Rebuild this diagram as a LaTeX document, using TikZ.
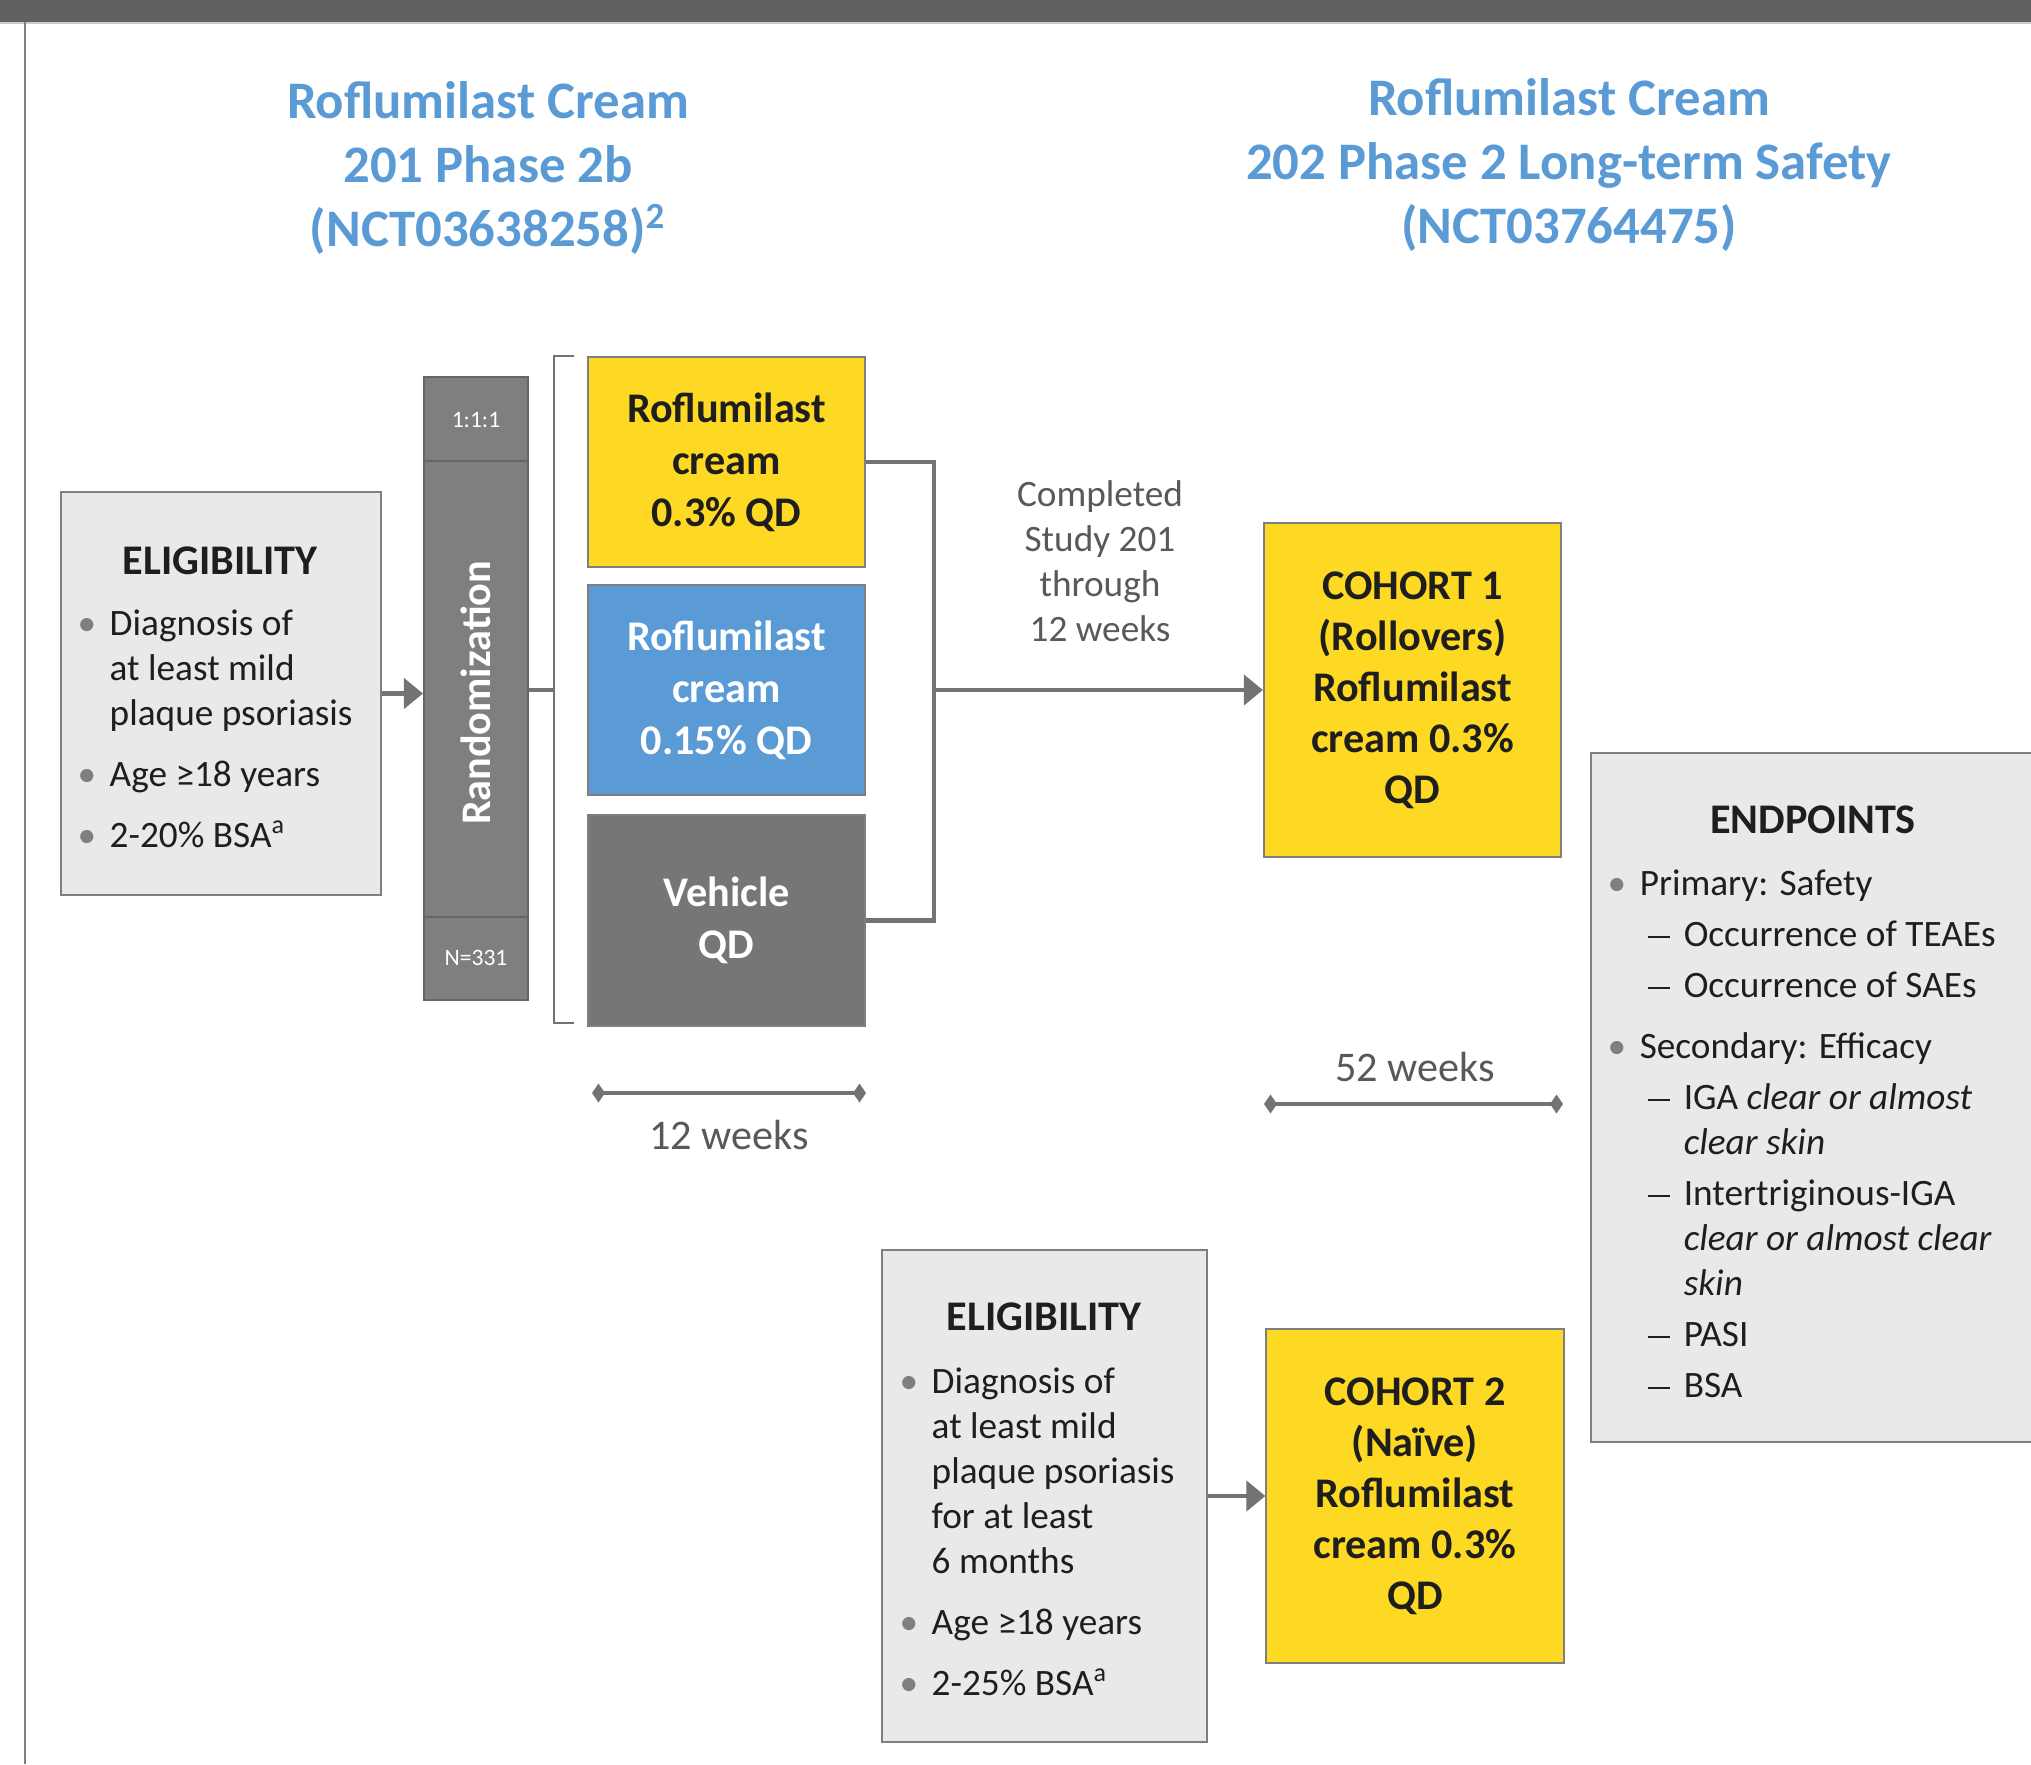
\documentclass[tikz,border=0pt]{standalone}
\usepackage{fontspec}
\setmainfont{Carlito}
\usetikzlibrary{arrows.meta}

\definecolor{titleblue}{HTML}{5B9BD5}
\definecolor{armyellow}{HTML}{FDD923}
\definecolor{armblue}{HTML}{5B9BD5}
\definecolor{armgray}{HTML}{767676}
\definecolor{randgray}{HTML}{7F7F7F}
\definecolor{boxgray}{HTML}{E9E9E9}
\definecolor{edgegray}{HTML}{7F7F7F}
\definecolor{linegray}{HTML}{737373}
\definecolor{labelgray}{HTML}{595959}
\definecolor{ink}{HTML}{1E1E1E}
\definecolor{bandgray}{HTML}{616161}

\newcommand{\titlefont}{\fontsize{15}{18.2}\selectfont\bfseries}
\newcommand{\armfont}{\fontsize{12}{14.8}\selectfont\bfseries}
\newcommand{\cohortfont}{\fontsize{12}{14.5}\selectfont\bfseries}
\newcommand{\headfont}{\fontsize{12}{14}\selectfont\bfseries}
\newcommand{\bodyfont}{\fontsize{10.6}{12.8}\selectfont}
\newcommand{\weekfont}{\fontsize{12}{14}\selectfont}
\newcommand{\ratiofont}{\fontsize{6.7}{8}\selectfont}
\newcommand{\ptbullet}{\makebox[3.2mm][l]{\textcolor{edgegray}{\textbullet}}}
\newcommand{\subdash}{\makebox[4.4mm][l]{\hspace{0.8mm}\rule[0.9mm]{2.2mm}{0.2mm}}}

\tikzset{
  titletext/.style={font=\titlefont, text=titleblue, align=center},
  listbox/.style={draw=edgegray, fill=boxgray, line width=0.6pt, inner sep=0pt},
  headtext/.style={font=\headfont, text=ink, anchor=base},
  listtext/.style={font=\bodyfont, text=ink, anchor=north west, inner sep=0pt},
  randbox/.style={draw=black!60, fill=randgray, line width=0.6pt, minimum width=1.04cm, minimum height=6.23cm, inner sep=0pt},
  whitebold/.style={font=\armfont, text=white},
  ratiotext/.style={font=\ratiofont, text=white},
  armbox/.style={draw=edgegray, line width=0.6pt, minimum width=2.77cm, minimum height=2.10cm, inner sep=0pt, align=center, font=\armfont, text=ink},
  cohortbox/.style={armbox, fill=armyellow, minimum width=2.97cm, minimum height=3.34cm, font=\cohortfont},
  flow/.style={draw=linegray, line width=1.3pt, -{Triangle[length=1.9mm, width=3mm]}},
  link/.style={draw=linegray, line width=1.3pt},
  bracketline/.style={draw=linegray, line width=0.8pt},
  dimline/.style={draw=linegray, line width=1pt, {Diamond[length=1.3mm, width=1.9mm]}-{Diamond[length=1.3mm, width=1.9mm]}},
  labeltext/.style={font=\bodyfont, text=labelgray, align=center},
  weektext/.style={font=\weekfont, text=labelgray}
}

\begin{document}
\begin{tikzpicture}[x=0.01cm, y=-0.01cm]
\useasboundingbox (0,0) rectangle (2031,1764);
\clip (0,0) rectangle (2031,1764);

% page frame
\fill[bandgray] (0,0) rectangle (2031,22);
\draw[line width=0.6pt, black!20] (0,23) -- (2031,23);
\draw[line width=0.6pt, edgegray] (25,22) -- (25,1764);

% titles
\node[titletext] (title201) at (488,168) {Roflumilast Cream\\201 Phase 2b\\(NCT03638258)\textsuperscript{2}};
\node[titletext] (title202) at (1569,165) {Roflumilast Cream\\202 Phase 2 Long-term Safety\\(NCT03764475)};

% study 201
\node[listbox, minimum width=3.2cm, minimum height=4.03cm] (elig1) at (221,693.5) {};
\node[headtext] (elig1head) at (220,574) {ELIGIBILITY};
\node[listtext] (elig1list) at (77,603.5) {\begin{tabular}{@{}l@{}l@{}}
  \ptbullet & Diagnosis of\\
  & at least mild\\
  & plaque psoriasis\\[4.5pt]
  \ptbullet & Age ≥18 years\\[4.5pt]
  \ptbullet & 2-20\% BSA\textsuperscript{a}
\end{tabular}};

\node[randbox] (rand) at (476,688.5) {};
\draw[line width=0.6pt, black!60] (rand.north west) ++(0,85) -- ++(104,0);
\draw[line width=0.6pt, black!60] (rand.south west) ++(0,-84) -- ++(104,0);
\node[whitebold, rotate=90] (randlbl) at (476,693) {Randomization};
\node[ratiotext] (ratio) at (476,420) {1:1:1};
\node[ratiotext] (nsize) at (476,958) {N=331};

\node[armbox, fill=armyellow] (arm1) at (726.5,462) {Roflumilast\\cream\\0.3\% QD};
\node[armbox, fill=armblue, text=white] (arm2) at (726.5,690) {Roflumilast\\cream\\0.15\% QD};
\node[armbox, fill=armgray, text=white, minimum height=2.11cm] (arm3) at (726.5,920.5) {Vehicle\\QD};

\draw[flow] (elig1.east) -- (rand.west |- elig1.east);
\coordinate (split) at (554,690);
\draw[link] (rand.east |- split) -- (split);
\draw[bracketline] (574,356) -| (split) |- (574,1023);

% study 202
\node[cohortbox] (coh1) at (1412.5,690) {COHORT 1\\(Rollovers)\\Roflumilast\\cream 0.3\%\\QD};
\coordinate (merge) at (934,690);
\draw[link] (arm1.east) -| (merge) |- (arm3.east);
\draw[flow] (merge) -- (coh1.west);
\node[labeltext] (rolltxt) at (1100,561.5) {Completed\\Study 201\\through\\12 weeks};

\coordinate (w12a) at (592,1093);
\coordinate (w12b) at (866,1093);
\draw[dimline] (w12a) -- (w12b);
\node[weektext] (w12) at (729,1135) {12 weeks};
\coordinate (w52a) at (1264,1104);
\coordinate (w52b) at (1563,1104);
\draw[dimline] (w52a) -- (w52b);
\node[weektext] (w52) at (1415,1067) {52 weeks};

\node[listbox, minimum width=3.25cm, minimum height=4.92cm] (elig2) at (1044.5,1496) {};
\node[headtext] (elig2head) at (1044,1330) {ELIGIBILITY};
\node[listtext] (elig2list) at (899,1361.5) {\begin{tabular}{@{}l@{}l@{}}
  \ptbullet & Diagnosis of\\
  & at least mild\\
  & plaque psoriasis\\
  & for at least\\
  & 6 months\\[4.5pt]
  \ptbullet & Age ≥18 years\\[4.5pt]
  \ptbullet & 2-25\% BSA\textsuperscript{a}
\end{tabular}};
\node[cohortbox] (coh2) at (1415,1496) {COHORT 2\\(Naïve)\\Roflumilast\\cream 0.3\%\\QD};
\draw[flow] (elig2.east) -- (coh2.west);

\node[listbox, minimum width=4.6cm, minimum height=6.89cm] (endp) at (1821,1097.5) {};
\node[headtext] (endphead) at (1813,833.5) {ENDPOINTS};
\node[listtext] (endplist) at (1607,863.5) {\begin{tabular}{@{}l@{}l@{}l@{}}
  \ptbullet & \multicolumn{2}{@{}l@{}}{Primary: Safety}\\[1.7pt]
  & \subdash & Occurrence of TEAEs\\[1.7pt]
  & \subdash & Occurrence of SAEs\\[4.5pt]
  \ptbullet & \multicolumn{2}{@{}l@{}}{Secondary: Efficacy}\\[1.7pt]
  & \subdash & IGA \textit{clear or almost}\\
  & & \textit{clear skin}\\[1.7pt]
  & \subdash & Intertriginous-IGA\\
  & & \textit{clear or almost clear}\\
  & & \textit{skin}\\[1.7pt]
  & \subdash & PASI\\[1.7pt]
  & \subdash & BSA
\end{tabular}};
\end{tikzpicture}
\end{document}
